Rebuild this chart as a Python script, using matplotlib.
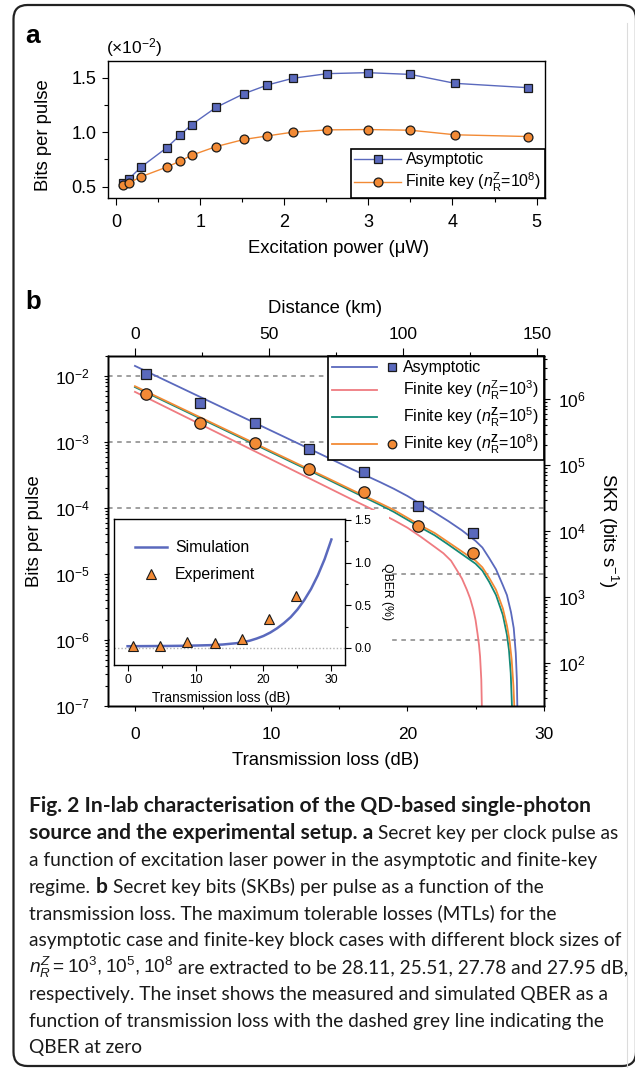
import numpy as np
import matplotlib
matplotlib.use("Agg")
import matplotlib.pyplot as plt
from matplotlib.patches import FancyBboxPatch, Rectangle
from matplotlib.lines import Line2D
from matplotlib.legend_handler import HandlerBase
from matplotlib.ticker import MultipleLocator, LogLocator, FormatStrFormatter

plt.rcParams['font.family'] = ['Liberation Sans', 'DejaVu Sans']
plt.rcParams['mathtext.fontset'] = 'custom'
plt.rcParams['mathtext.rm'] = 'Liberation Sans'
plt.rcParams['mathtext.it'] = 'Liberation Sans:italic'
plt.rcParams['mathtext.bf'] = 'Liberation Sans:bold'
plt.rcParams['mathtext.sf'] = 'Liberation Sans'
plt.rcParams['axes.linewidth'] = 1.0

# ---------------- data: panel a ----------------
power_uW = [0.08, 0.15, 0.30, 0.60, 0.76, 0.90, 1.19, 1.52, 1.80, 2.10, 2.51, 2.99, 3.50, 4.03, 4.90]
bpp_asym_e2 = [0.534, 0.570, 0.682, 0.856, 0.972, 1.070, 1.228, 1.353, 1.433, 1.494, 1.537, 1.546, 1.530, 1.448, 1.408]
bpp_finite8_e2 = [0.512, 0.534, 0.592, 0.679, 0.734, 0.789, 0.868, 0.933, 0.966, 1.000, 1.021, 1.024, 1.018, 0.976, 0.960]

# ---------------- data: panel b ----------------
loss_pts_dB = [0.8, 4.8, 8.8, 12.8, 16.8, 20.8, 24.8]
skb_asym_pts = [1.06e-2, 3.86e-3, 1.95e-3, 7.87e-4, 3.50e-4, 1.08e-4, 4.17e-5]
skb_fin8_pts = [5.35e-3, 1.95e-3, 9.60e-4, 3.92e-4, 1.74e-4, 5.38e-5, 2.08e-5]

asym_curve_dB = [0, 4, 8, 12, 14, 16, 18, 19, 20, 21, 22, 23, 24, 25, 25.5, 26, 26.5, 27, 27.3, 27.6, 27.8, 27.95, 28.03, 28.08, 28.11]
asym_curve_log = [-1.849, -2.242, -2.634, -3.026, -3.222, -3.42, -3.61, -3.71, -3.82, -3.945, -4.07, -4.20, -4.34, -4.50, -4.60,
                  -4.76, -4.93, -5.17, -5.32, -5.58, -5.82, -6.2, -6.6, -7.2, -8.5]
fin8_curve_dB = [0, 4, 8, 12, 14, 16, 18, 19, 20, 21, 22, 23, 24, 25, 25.5, 26, 26.5, 27, 27.3, 27.5, 27.65, 27.78, 27.86, 27.92, 27.95]
fin8_curve_log = [-2.156, -2.55, -2.944, -3.338, -3.535, -3.735, -3.93, -4.03, -4.15, -4.27, -4.38, -4.52, -4.66, -4.80, -4.90,
                  -5.06, -5.24, -5.52, -5.78, -6.02, -6.3, -6.7, -7.1, -7.6, -8.5]
fin5_curve_dB = [0, 4, 8, 12, 14, 16, 18, 19, 20, 21, 22, 23, 24, 25, 25.5, 26, 26.5, 27, 27.3, 27.45, 27.58, 27.67, 27.74, 27.78]
fin5_curve_log = [-2.17, -2.565, -2.96, -3.355, -3.553, -3.755, -3.955, -4.06, -4.18, -4.30, -4.415, -4.555, -4.70, -4.845, -4.95,
                  -5.12, -5.32, -5.62, -5.92, -6.15, -6.5, -7.0, -7.6, -8.5]
fin3_curve_dB = [0, 4, 8, 12, 14, 16, 18, 19, 20, 21, 22, 22.64, 23.2, 23.62, 24, 24.36, 24.6, 24.84, 25.0, 25.14, 25.25, 25.33, 25.42, 25.48, 25.51]
fin3_curve_log = [-2.242, -2.651, -3.06, -3.47, -3.675, -3.88, -4.08, -4.185, -4.30, -4.44, -4.59, -4.687, -4.80, -4.94, -5.07,
                  -5.24, -5.37, -5.545, -5.70, -5.90, -6.07, -6.25, -6.6, -7.2, -8.5]

# inset (QBER)
sim_loss_dB = [0, 2, 4, 6, 8, 10, 12, 14, 16, 17, 18, 19, 20, 21, 22, 23, 24, 25, 26, 27, 28, 29, 30]
sim_qber_pct = [0.020, 0.021, 0.022, 0.023, 0.025, 0.028, 0.032, 0.040, 0.055, 0.068, 0.085, 0.11, 0.14, 0.18, 0.23, 0.29,
                0.36, 0.45, 0.56, 0.69, 0.85, 1.04, 1.27]
exp_loss_dB = [0.8, 4.8, 8.8, 12.8, 16.8, 20.8, 24.8]
exp_qber_pct = [0.028, 0.020, 0.066, 0.055, 0.105, 0.335, 0.607]

DB_PER_KM = 0.1966
CLOCK_RATE = 2.25e8

BLUE = '#5a69bd'
ORANGE = '#f28a35'
PINK = '#ef7b80'
TEAL = '#138a78'
EDGE = '#1a1a1a'

W, H = 635, 1068
fig = plt.figure(figsize=(W / 100, H / 100), dpi=100)


def fbox(l, t, r, b):
    return [l / W, 1 - b / H, (r - l) / W, (b - t) / H]


# ---------------- outer frame ----------------
frame = FancyBboxPatch((0.135, 0.02), 6.36 - 0.135, 10.63 - 0.02,
                       boxstyle='round,pad=0,rounding_size=0.14',
                       transform=fig.dpi_scale_trans, fill=False, ec='#222222', lw=1.6)
fig.add_artist(frame)
fig.add_artist(Line2D([6.27, 6.27], [0.0, 10.45], transform=fig.dpi_scale_trans, color='#dcdcdc', lw=0.8))

# ---------------- panel a ----------------
axa = fig.add_axes(fbox(107.7, 61, 545, 198))
axa.plot(power_uW, bpp_asym_e2, '-s', color=BLUE, mfc=BLUE, mec=EDGE, ms=5.6, mew=0.9, lw=1.0,
         label='Asymptotic')
axa.plot(power_uW, bpp_finite8_e2, '-o', color=ORANGE, mfc=ORANGE, mec=EDGE, ms=6.4, mew=0.9, lw=1.0,
         label=r'Finite key ($n_{\mathrm{R}}^{\mathrm{Z}}$=10$^{8}$)')
axa.set_xlim(-0.1, 5.1)
axa.set_ylim(0.396, 1.653)
axa.xaxis.set_major_locator(MultipleLocator(1))
axa.xaxis.set_minor_locator(MultipleLocator(0.5))
axa.yaxis.set_major_locator(MultipleLocator(0.5))
axa.yaxis.set_minor_locator(MultipleLocator(0.25))
axa.yaxis.set_major_formatter(FormatStrFormatter('%.1f'))
axa.tick_params(which='both', direction='out', width=0.8, labelsize=13)
axa.tick_params(axis='x', which='major', length=4.8, pad=6.5)
axa.tick_params(axis='x', which='minor', length=2.8)
axa.tick_params(axis='y', which='major', length=4.3, pad=3.6)
axa.tick_params(axis='y', which='minor', length=2.6)
axa.set_xlabel('Excitation power (μW)', fontsize=13.3, va='center')
axa.xaxis.set_label_coords(0.529, -0.365)
axa.set_ylabel('Bits per pulse', fontsize=13.3, va='center')
axa.yaxis.set_label_coords(-0.1464, 0.46)
lega = axa.legend(loc='lower right', bbox_to_anchor=(1, 0), borderaxespad=0, fontsize=11.5,
                  handlelength=2.9, handletextpad=0.3, borderpad=0.22, labelspacing=0.25,
                  fancybox=False, framealpha=1, edgecolor='black')
lega.get_frame().set_linewidth(1.2)
fig.text(106 / W, 1 - 48 / H, r'(×10$^{-2}$)', fontsize=12.5, ha='left', va='center')
fig.text(25 / W, 1 - 43 / H, 'a', fontsize=19, fontweight='bold', ha='left', va='baseline')

# ---------------- panel b ----------------
axb = fig.add_axes(fbox(107.7, 356, 543.7, 706))
axb.set_yscale('log')
axb.set_xlim(-2, 30)
axb.set_ylim(1e-7, 2e-2)
for lvl in [1e-2, 1e-3, 1e-4, 1e-5, 1e-6]:
    axb.axhline(lvl, color='#858585', ls=(0, (3, 3)), lw=1.1, zorder=0.5)

axb.plot(asym_curve_dB, 10 ** np.array(asym_curve_log), color=BLUE, lw=1.3, zorder=2)
axb.plot(fin3_curve_dB, 10 ** np.array(fin3_curve_log), color=PINK, lw=1.3, zorder=2)
axb.plot(fin5_curve_dB, 10 ** np.array(fin5_curve_log), color=TEAL, lw=1.3, zorder=2.1)
axb.plot(fin8_curve_dB, 10 ** np.array(fin8_curve_log), color=ORANGE, lw=1.3, zorder=2.2)
axb.plot(loss_pts_dB, skb_asym_pts, 's', ls='none', mfc=BLUE, mec=EDGE, ms=6.6, mew=0.9, zorder=3)
axb.plot(loss_pts_dB, skb_fin8_pts, 'o', ls='none', mfc=ORANGE, mec=EDGE, ms=8.2, mew=0.9, zorder=3)

axb.xaxis.set_major_locator(MultipleLocator(10))
axb.xaxis.set_minor_locator(MultipleLocator(5))
axb.yaxis.set_major_locator(LogLocator(base=10, numticks=20))
axb.yaxis.set_minor_locator(LogLocator(base=10, subs=np.arange(2, 10), numticks=20))
axb.tick_params(which='both', direction='out', width=0.8, labelsize=12.5)
axb.tick_params(axis='x', which='major', length=3.4, pad=11.5)
axb.tick_params(axis='x', which='minor', length=2.2)
axb.tick_params(axis='y', which='major', length=2.8, pad=10)
axb.tick_params(axis='y', which='minor', length=2.0)
axb.set_xlabel('Transmission loss (dB)', fontsize=13.3, va='center')
axb.xaxis.set_label_coords(0.5, -0.156)
axb.set_ylabel('Bits per pulse', fontsize=13.3, va='center')
axb.yaxis.set_label_coords(-0.169, 0.5)


class Entry:
    def __init__(self, color, marker=None, ms=0):
        self.color = color
        self.marker = marker
        self.ms = ms


class SplitHandler(HandlerBase):
    def create_artists(self, legend, orig, xdescent, ydescent, width, height, fontsize, trans):
        y = height / 2 - ydescent
        x0 = -xdescent
        ln = Line2D([x0, x0 + 0.70 * width], [y, y], color=orig.color, lw=1.3)
        ln.set_transform(trans)
        arts = [ln]
        if orig.marker is not None:
            mk = Line2D([x0 + 0.92 * width], [y], marker=orig.marker, ms=orig.ms, mfc=orig.color,
                        mec=EDGE, mew=0.9, ls='none')
            mk.set_transform(trans)
            arts.append(mk)
        return arts


handles_b = [Entry(BLUE, 's', 5.2), Entry(PINK), Entry(TEAL), Entry(ORANGE, 'o', 6.2)]
labels_b = ['Asymptotic',
            r'Finite key ($n_{\mathrm{R}}^{\mathrm{Z}}$=10$^{3}$)',
            r'Finite key ($n_{\mathrm{R}}^{\mathbf{Z}}$=10$^{5}$)',
            r'Finite key ($n_{\mathrm{R}}^{\mathbf{Z}}$=10$^{8}$)']
legb = axb.legend(handles_b, labels_b, handler_map={Entry: SplitHandler()}, loc='upper right',
                  bbox_to_anchor=(1, 1), borderaxespad=0, fontsize=11.5, handlelength=4.06,
                  handletextpad=0.4, borderpad=0.28, labelspacing=0.22, fancybox=False,
                  framealpha=1, edgecolor='black')
legb.get_frame().set_linewidth(1.2)
legb.set_zorder(4)

# top axis: distance
axt = axb.twiny()
axt.set_xlim(-2 / DB_PER_KM, 30 / DB_PER_KM)
axt.xaxis.set_major_locator(MultipleLocator(50))
axt.xaxis.set_minor_locator(MultipleLocator(25))
axt.tick_params(which='both', direction='out', width=0.8, labelsize=12.5)
axt.tick_params(axis='x', which='major', length=5.5, pad=4.8)
axt.tick_params(axis='x', which='minor', length=3.0)
axt.set_xlabel('Distance (km)', fontsize=13.3, va='center')
axt.xaxis.set_label_coords(0.498, 1.137)

# right axis: SKR
axr = axb.twinx()
axr.set_yscale('log')
axr.set_ylim(1e-7 * CLOCK_RATE, 2e-2 * CLOCK_RATE)
axr.yaxis.set_major_locator(LogLocator(base=10, numticks=20))
axr.yaxis.set_minor_locator(LogLocator(base=10, subs=np.arange(2, 10), numticks=20))
axr.tick_params(which='both', direction='out', width=0.8, labelsize=12.5)
axr.tick_params(axis='y', which='major', length=4.5, pad=5.8)
axr.tick_params(axis='y', which='minor', length=2.4)
axr.set_ylabel(r'SKR (bits s$^{-1}$)', fontsize=13.3, rotation=270, va='center')
axr.yaxis.set_label_coords(1.1475, 0.5)

fig.text(25 / W, 1 - 309 / H, 'b', fontsize=18.5, fontweight='bold', ha='left', va='baseline')

# white backing behind the inset (hides the dashed guide lines)
fig.add_artist(Rectangle((109.6 / W, 1 - 704.6 / H), (389 - 109.6) / W, (704.6 - 510) / H,
                         transform=fig.transFigure, fc='white', ec='none', zorder=4))

# ---------------- inset ----------------
axi = fig.add_axes(fbox(114, 519, 345, 665))
axi.set_zorder(5)
axi.axhline(0, color='#b0b0b0', ls=(0, (1, 1.5)), lw=1.0, zorder=0.5)
axi.plot(sim_loss_dB, sim_qber_pct, color=BLUE, lw=1.8, label='Simulation')
axi.plot(exp_loss_dB, exp_qber_pct, '^', ls='none', mfc=ORANGE, mec=EDGE, ms=7.2, mew=0.8, label='Experiment')
axi.set_xlim(-2, 32)
axi.set_ylim(-0.2, 1.51)
axi.yaxis.tick_right()
axi.yaxis.set_label_position('right')
axi.xaxis.set_major_locator(MultipleLocator(10))
axi.xaxis.set_minor_locator(MultipleLocator(5))
axi.yaxis.set_major_locator(MultipleLocator(0.5))
axi.yaxis.set_minor_locator(MultipleLocator(0.25))
axi.yaxis.set_major_formatter(FormatStrFormatter('%.1f'))
axi.tick_params(which='both', direction='out', width=0.8, labelsize=8.8)
axi.tick_params(which='major', length=4.2, pad=2.5)
axi.tick_params(which='minor', length=2.2)
axi.set_ylabel('QBER (%)', fontsize=8.8, rotation=270, va='center')
axi.yaxis.set_label_coords(1.18, 0.5)
axi.set_xlabel('Transmission loss (dB)', fontsize=9.8, va='center')
axi.xaxis.set_label_coords(0.463, -0.226)
axi.legend(loc='upper left', frameon=False, fontsize=11.4, handlelength=2.0, handletextpad=0.5,
           labelspacing=0.75, borderaxespad=0.75, borderpad=0.6)

# ---------------- caption ----------------
renderer = fig.canvas.get_renderer()
CAP_FONT = ['Lato', 'DejaVu Sans']


def text_width(s, fs, wt='normal'):
    t = fig.text(0, 0, s, fontsize=fs, family=CAP_FONT, fontweight=wt)
    w = t.get_window_extent(renderer).width
    t.remove()
    return w


cap_fs = 12 * 590 / text_width('asymptotic case and finite-key block cases with different block sizes of', 12)
cap_fs_bold = 12 * 558 / text_width('Fig. 2 In-lab characterisation of the QD-based single-photon', 12, 'bold')
space_w = text_width('a a', cap_fs) - text_width('aa', cap_fs)

caption_lines = [
    [("Fig. 2 In-lab characterisation of the QD-based single-photon", 'bold')],
    [("source and the experimental setup. a", 'bold'), ("Secret key per clock pulse as", 'normal')],
    [("a function of excitation laser power in the asymptotic and finite-key", 'normal')],
    [("regime.", 'normal'), ("b", 'bold'), ("Secret key bits (SKBs) per pulse as a function of the", 'normal')],
    [("transmission loss. The maximum tolerable losses (MTLs) for the", 'normal')],
    [("asymptotic case and finite-key block cases with different block sizes of", 'normal')],
    [(r"$n_R^Z = 10^3, 10^5, 10^8$", 'normal'), ("are extracted to be 28.11, 25.51, 27.78 and 27.95 dB,", 'normal')],
    [("respectively. The inset shows the measured and simulated QBER as a", 'normal')],
    [("function of transmission loss with the dashed grey line indicating the", 'normal')],
    [("QBER at zero", 'normal')],
]
base0 = 812.5
step = 26.75
for i, segs in enumerate(caption_lines):
    x = 29.0
    yb = base0 + i * step
    for j, (txt, wt) in enumerate(segs):
        if j > 0:
            x += space_w
        fs = cap_fs_bold if wt == 'bold' else cap_fs
        t = fig.text(x / W, 1 - yb / H, txt, fontsize=fs, family=CAP_FONT, fontweight=wt,
                     ha='left', va='baseline', color='#1a1a1a')
        x += t.get_window_extent(renderer).width

fig.savefig('out.png', dpi=100, facecolor='white')
